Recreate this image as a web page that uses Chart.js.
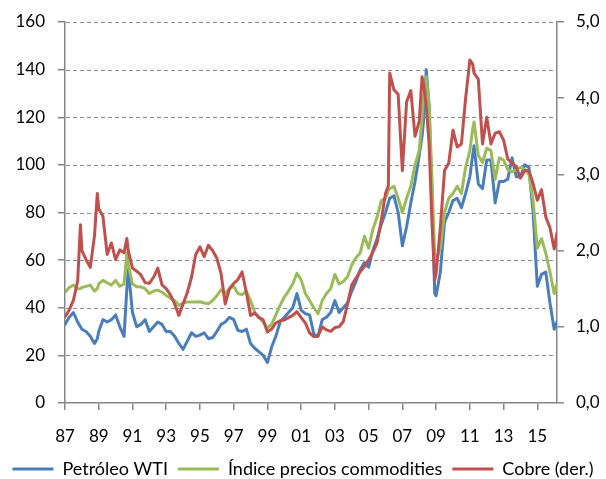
<!DOCTYPE html>
<html><head><meta charset="utf-8">
<script src="https://cdn.jsdelivr.net/npm/chart.js@4/dist/chart.umd.min.js"></script>
<style>html,body{margin:0;padding:0;background:#fff;}#wrap{width:606px;height:479px;}</style>
</head><body><div id="wrap"><canvas id="c" width="606" height="479"></canvas></div>
<script>
// months since January 1987
const monthIdx = [0,3,6,9,11, 12,15,18,21,23, 24,27,30,33, 36,39,42,44,45,
  48,51,54,57, 60,63,66,69, 72,75,78,81, 84,87,90,93, 96,99,102,105,
  108,111,114,117, 120,123,126,129, 132,135,138,141, 144,147,150,153,
  156,159,162,165, 168,171,174,177, 180,183,186,189, 192,195,198,201,
  204,207,210,213, 216,219,222,225, 228,230,231,234,237, 240,243,246,249,
  252,254,255,257,259,261,263, 264,267,270,273, 276,279,282,285,
  288,290,291,294,297, 300,303,306,309, 312,315,318,321, 324,327,330,333,
  336,339,342,345, 348,350];

const wti = [33,36,38,34,32, 31,30,28,25,27, 30,35,34,35, 37,32,28,48,56,
  38,32,33,35, 30,32,34,33, 30,30,28,25, 22.5,26,29.5,28, 28.5,29.5,27,27.5,
  30,33,34,36, 35,30.5,30,31, 25,23,21.5,20, 17,23.5,28,34,
  36,38,40,46, 39,37.5,37,29, 28,35,36,38, 43,38,40,42,
  47,51,56,59, 57,64,69,75, 80,84,86,87,80, 66,74,84,93,
  104,112,118,140,125,88,46, 45,55,76,80, 85,86,82,88,
  95,104,108,92,90, 102,102,84,93, 93,94,103,95, 95,100,99,80,
  49,54,55,42, 31,34];

const commodities = [46.5,48.5,49.5,48,48, 48.5,49,49.5,47,48, 50,51.5,50.5,49.5, 51.5,49,50,63,58,
  50,48.8,48.8,48, 46,47,47.4,46.5, 45.2,44,43,41, 42,42.4,42.4,42.4, 42.5,42,41.7,43,
  45,47.5,46,48, 49,46,45.5,47, 43,38,36,34, 31.5,33,37,41,
  44.5,47,50,54.5, 51.7,46,43,40, 37.5,43,46,48, 54,50,51,53,
  58,61,63,70, 65,73,78,85, 86,89,90,91,86, 80,86,91,100,
  106,120,128,137,125,95,62, 60,65,80,86, 88,91,88,99,
  106,115,118,104,101, 107,106,94,103, 102,98,97,98, 99,98,96,85,
  65,69,63,55, 46,50];

const copper = [1.13,1.22,1.35,1.60,2.34, 2.00,1.88,1.78,2.20,2.75, 2.55,2.45,1.95,2.10, 1.88,2.01,1.97,2.16,2.00,
  1.77,1.73,1.68,1.58, 1.57,1.65,1.77,1.55, 1.50,1.42,1.30,1.15, 1.30,1.45,1.65,1.95, 2.05,1.92,2.07,2.00,
  1.90,1.70,1.30,1.50, 1.57,1.62,1.72,1.45, 1.15,1.18,1.12,1.09, 0.93,0.97,1.05,1.08,
  1.09,1.12,1.15,1.20, 1.12,1.05,0.92,0.87, 0.88,1.00,0.96,0.94, 0.99,1.00,1.07,1.30,
  1.55,1.64,1.72,1.79, 1.88,1.98,2.10,2.40, 2.75,2.85,4.33,4.11,4.05, 3.05,3.95,4.10,3.50,
  3.70,4.28,4.20,3.90,3.40,2.40,1.61, 1.70,2.30,3.05,3.15, 3.58,3.36,3.40,4.00,
  4.50,4.45,4.33,4.25,3.40, 3.75,3.40,3.54,3.56, 3.45,3.20,3.15,3.10, 2.95,3.05,3.05,2.88,
  2.66,2.80,2.44,2.30, 2.02,2.23];

const xTickMonths = [0,24,48,72,96,120,144,168,192,216,240,264,288,312,336];
const xTickLabels = ['87','89','91','93','95','97','99','01','03','05','07','09','11','13','15'];
const rightTickLabels = ['0,0','1,0','2,0','3,0','4,0','5,0'];
const seriesNames = ['Petróleo WTI','Índice precios commodities','Cobre (der.)'];
const seriesColors = ['#4A7EBB','#9BBB59','#C0504D'];

const toPts = arr => arr.map((v,i) => ({x: monthIdx[i], y: v}));
const axisGray = '#868686';
const tickFont = {family: 'Lato', size: 17, lineHeight: 1};

// dashed horizontal grid (as small filled dashes) + x tick labels, positioned by the chart's own scales
const gridAndLabels = {
  id: 'gridAndLabels',
  beforeDatasetsDraw(chart) {
    const ctx = chart.ctx, ys = chart.scales.y, area = chart.chartArea;
    ctx.save();
    ctx.fillStyle = '#8c8c8c';
    ys.ticks.forEach(t => {
      if (t.value === 0) return;
      const py = Math.round(ys.getPixelForValue(t.value));
      for (let px = Math.ceil(area.left) + 1; px < area.right; px += 7) {
        ctx.fillRect(px, py, Math.min(4, area.right - px), 1);
      }
    });
    ctx.restore();
  },
  afterDraw(chart) {
    const ctx = chart.ctx, xs = chart.scales.x;
    ctx.save();
    ctx.fillStyle = '#000'; ctx.font = '17px Lato';
    ctx.textAlign = 'center'; ctx.textBaseline = 'alphabetic';
    xTickMonths.forEach((m, i) => ctx.fillText(xTickLabels[i], xs.getPixelForValue(m), xs.top + 39));
    ctx.restore();
  }
};

const ch = new Chart(document.getElementById('c'), {
  type: 'line',
  data: {
    datasets: [
      {label: seriesNames[0], data: toPts(wti), borderColor: seriesColors[0], yAxisID: 'y', order: 2},
      {label: seriesNames[1], data: toPts(commodities), borderColor: seriesColors[1], yAxisID: 'y', order: 1},
      {label: seriesNames[2], data: toPts(copper), borderColor: seriesColors[2], yAxisID: 'y2', order: 0}
    ]
  },
  options: {
    responsive: false, animation: false, devicePixelRatio: 1,
    layout: {padding: {top: 22, bottom: -9, left: 0, right: 0}},
    elements: {point: {radius: 0}, line: {tension: 0, borderWidth: 3, borderJoinStyle: 'round', borderCapStyle: 'round', fill: false}},
    plugins: {
      tooltip: {enabled: false},
      legend: {
        position: 'bottom',
        labels: {
          boxWidth: 41, boxHeight: 3, padding: 10, color: '#000',
          font: {family: 'Lato', size: 18},
          generateLabels: chart => chart.data.datasets.map((ds, i) => ({
            text: ds.label, fillStyle: ds.borderColor, strokeStyle: ds.borderColor,
            lineWidth: 0, hidden: false, datasetIndex: i, fontColor: '#000'
          }))
        }
      }
    },
    scales: {
      x: {
        type: 'linear', min: 0, max: 350,
        afterBuildTicks: s => { s.ticks = xTickMonths.map(v => ({value: v})); },
        afterFit: s => { s.height = 47; },
        ticks: {autoSkip: false, maxRotation: 0, padding: 16, color: 'rgba(0,0,0,0)', font: tickFont,
          callback: (v, i) => xTickLabels[i]},
        grid: {drawOnChartArea: false, tickLength: 7, color: axisGray, lineWidth: 1.5},
        border: {color: axisGray, width: 1.5}
      },
      y: {
        position: 'left', min: 0, max: 160,
        afterFit: s => { s.width = 65; },
        ticks: {stepSize: 20, padding: 13, color: '#000', font: tickFont},
        grid: {drawOnChartArea: false, tickLength: 7, color: axisGray, lineWidth: 1.5},
        border: {color: axisGray, width: 1.5}
      },
      y2: {
        position: 'right', min: 0, max: 5,
        afterFit: s => { s.width = 49; },
        ticks: {stepSize: 1, padding: 12, color: '#000', font: tickFont,
          callback: (v) => rightTickLabels[Math.round(v)]},
        grid: {drawOnChartArea: false, tickLength: 7, color: axisGray, lineWidth: 1.5},
        border: {color: axisGray, width: 1.5}
      }
    }
  },
  plugins: [gridAndLabels]
});
document.fonts.ready.then(() => setTimeout(() => ch.draw(), 150));
</script>
</body></html>
